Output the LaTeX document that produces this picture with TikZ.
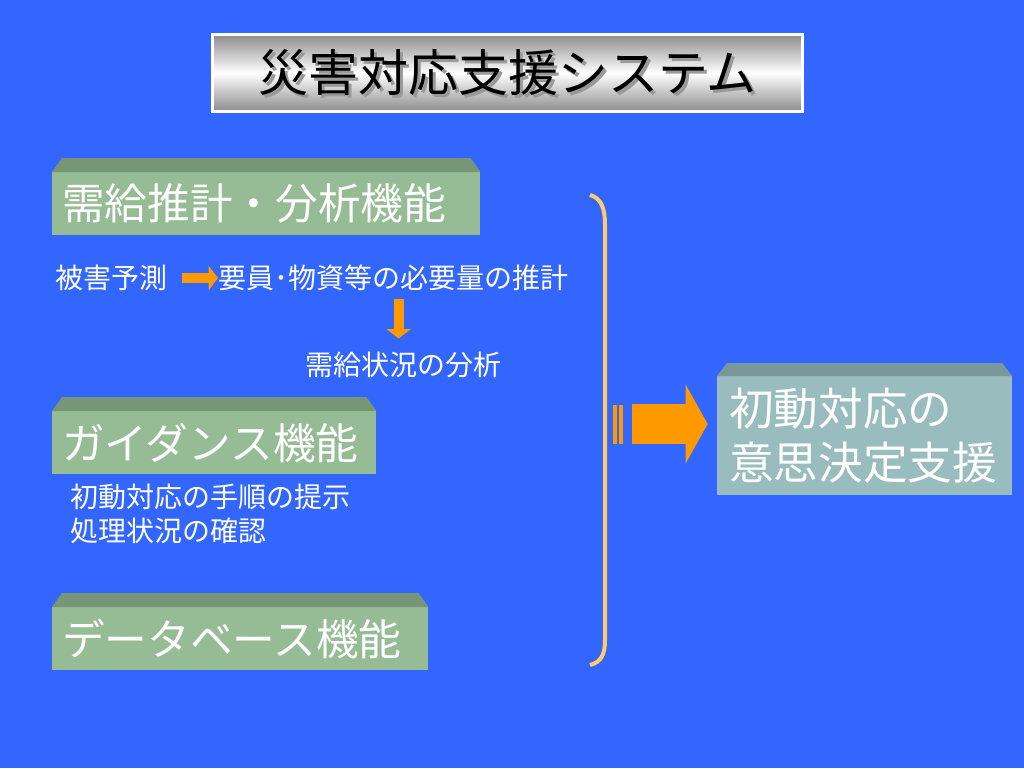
\documentclass[tikz,border=0pt]{standalone}
\usepackage{fontspec}
\setmainfont{Noto Sans CJK JP}
\usetikzlibrary{arrows.meta}
\definecolor{slideblue}{RGB}{51,102,255}
\definecolor{facegreen}{RGB}{150,188,150}
\definecolor{bevelgreen}{RGB}{118,150,118}
\definecolor{faceteal}{RGB}{153,188,190}
\definecolor{bevelteal}{RGB}{120,152,154}
\definecolor{titlegray}{RGB}{140,140,140}
\definecolor{arroworange}{RGB}{255,153,0}
\definecolor{bracketgold}{RGB}{255,204,102}

\begin{document}
\begin{tikzpicture}[x=0.75pt,y=-0.75pt,
                title box/.style={draw=white,line width=2.25pt,top color=titlegray,bottom color=titlegray,middle color=white,minimum width=442.5pt,minimum height=57.75pt},
                title text/.style={inner sep=0pt,font=\fontsize{37.5}{42}\selectfont},
                func box/.style={fill=facegreen,text=white,anchor=north west,align=left,inner xsep=7.5pt,inner ysep=0pt,minimum height=47.25pt,font=\fontsize{32}{38}\selectfont},
                note/.style={text=white,anchor=west,inner sep=0pt,font=\fontsize{21}{25}\selectfont},
                flow/.style={draw=arroworange,line width=7.5pt,-{Triangle[width=18pt,length=7pt]}},
                big flow/.style={draw=arroworange,line width=29.5pt,-{Triangle[width=58.5pt,length=16.5pt]}},
                ]
                \fill[slideblue] (0,0) rectangle (1024,768);

                % title
                \node[title box] (title) at (507.5,73) {};
                \node[title text,text=black!40] (titleshade) at ([shift={(3,3)}]title.center) {災害対応支援システム};
                \node[title text] (titletext) at (title.center) {災害対応支援システム};

                % function boxes
                \node[func box,text width=306pt] (supply) at (52,172) {需給推計・分析機能};
                \node[func box,text width=228pt] (guide) at (52,411) {ガイダンス機能};
                \node[func box,text width=267pt] (data) at (52,607) {データベース機能};
                \node[func box,fill=faceteal,text width=203pt,inner xsep=9pt,minimum height=89.25pt,font=\fontsize{33.5}{41}\selectfont] (decide) at (717,376) {初動対応の\\意思決定支援};
                \foreach \n in {supply,guide,data}
                    \fill[bevelgreen] (\n.north west) -- ++(10,-14) -- ([shift={(-10,-14)}]\n.north east) -- (\n.north east) -- cycle;
                \fill[bevelteal] (decide.north west) -- ++(10,-13) -- ([shift={(-10,-13)}]decide.north east) -- (decide.north east) -- cycle;

                % notes
                \node[note] (predict) at (55,278) {被害予測};
                \node[note] (need) at (218,278) {要員･物資等の必要量の推計};
                \node[note] (analysis) at (305,365) {需給状況の分析};
                \node[note] (steps) at (70,497) {初動対応の手順の提示};
                \node[note] (status) at (70,531) {処理状況の確認};

                \draw[flow,shorten <=11] (predict.east) -- (need.west);
                \draw[flow,shorten <=6,shorten >=10] ([xshift=4]need.south) -- ([xshift=4]need.south |- analysis.north);

                % bracket and result
                \coordinate (bracket) at (605,424);
                \draw[bracketgold,line width=3pt] (590,195) .. controls (601,198) and (605,208) .. (605,225) -- (605,640) .. controls (605,655) and (601,662) .. (590,665);
                \foreach \s in {8,14}
                    \fill[arroworange] ([shift={(\s,-19.5)}]bracket) rectangle ++(3.5,39);
                \draw[big flow,shorten >=7] ([xshift=20]bracket) -- (bracket -| decide.west);
            \end{tikzpicture}
\end{document}
